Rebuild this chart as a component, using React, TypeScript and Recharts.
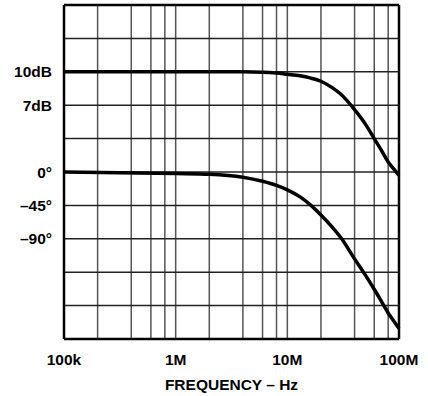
import { LineChart, Line, XAxis, YAxis, ReferenceLine } from 'recharts'

const freqs = [1e5, 1e6, 2e6, 4e6, 6e6, 8e6, 1e7, 1.3e7, 1.6e7, 2e7, 2.5e7, 3e7, 4e7, 5e7, 6e7, 7e7, 8e7, 9e7, 1e8]
const gainDb = [10, 10, 10, 10, 9.97, 9.89, 9.78, 9.64, 9.45, 9.15, 8.6, 8.0, 6.6, 5.3, 4.0, 2.9, 1.9, 1.25, 0.7]
const phaseDeg = [0, -2, -3, -7, -12.5, -18, -24, -33.5, -44, -58, -73.5, -88, -117, -139, -158, -175, -190, -201, -211]

const xTicks = [1e5, 1e6, 1e7, 1e8]
const xTickLabels: Record<number, string> = { 100000: '100k', 1000000: '1M', 10000000: '10M', 100000000: '100M' }
const xGrid = [2e5, 4e5, 6e5, 8e5, 1e6, 2e6, 4e6, 6e6, 8e6, 1e7, 2e7, 4e7, 6e7, 8e7]

const gainTicks = [10, 7]
const gainGrid = [-11, -8, -5, -2, 1, 4, 7, 10, 13]
const phaseLabels = [
  { value: 0, text: '0°' },
  { value: -45, text: '–45°' },
  { value: -90, text: '–90°' },
]

const data = freqs.map((f, i) => ({ f, gain: gainDb[i], phase: phaseDeg[i] }))

const font = { fontFamily: '"Liberation Sans", Arial, sans-serif', fontWeight: 'bold', fontSize: 15.5, fill: '#000' }

export default function App() {
  return (
    <div style={{ position: 'absolute', left: 0, top: 0, width: 428, height: 396, background: '#fff' }}>
      <LineChart width={428} height={396} data={data} margin={{ top: 5, right: 29, left: 0, bottom: 0 }}>
        <XAxis
          dataKey="f"
          type="number"
          scale="log"
          domain={[1e5, 1e8]}
          ticks={xTicks}
          tickFormatter={(v: number) => xTickLabels[v] ?? ''}
          axisLine={false}
          tickLine={false}
          tickSize={0}
          tickMargin={15}
          height={57}
          tick={font}
          label={{ value: 'FREQUENCY – Hz', position: 'insideBottom', offset: 6, ...font }}
        />
        <YAxis
          yAxisId="gain"
          type="number"
          domain={[-14, 16]}
          ticks={gainTicks}
          tickFormatter={(v: number) => `${v}dB`}
          axisLine={false}
          tickLine={false}
          tickSize={0}
          tickMargin={12}
          width={64}
          tick={font}
        />
        <YAxis yAxisId="phase" type="number" domain={[-225, 225]} hide />

        {xGrid.map((x) => (
          <ReferenceLine key={`vx${x}`} yAxisId="gain" x={x} stroke="#555" strokeWidth={1.5} />
        ))}
        {gainGrid.map((y) => (
          <ReferenceLine key={`hy${y}`} yAxisId="gain" y={y} stroke="#222" strokeWidth={1.5} />
        ))}
        {phaseLabels.map((p) => (
          <ReferenceLine
            key={`ph${p.value}`}
            yAxisId="phase"
            y={p.value}
            stroke="none"
            label={{ value: p.text, position: 'left', offset: 12, ...font }}
          />
        ))}
        <ReferenceLine yAxisId="gain" x={1e5} stroke="#000" strokeWidth={2.5} />
        <ReferenceLine yAxisId="gain" x={1e8} stroke="#000" strokeWidth={2.5} />
        <ReferenceLine yAxisId="gain" y={-14} stroke="#000" strokeWidth={2.5} />
        <ReferenceLine yAxisId="gain" y={16} stroke="#000" strokeWidth={2.5} />

        <Line yAxisId="gain" dataKey="gain" type="monotone" stroke="#000" strokeWidth={3.5} dot={false} isAnimationActive={false} />
        <Line yAxisId="phase" dataKey="phase" type="monotone" stroke="#000" strokeWidth={3.5} dot={false} isAnimationActive={false} />
      </LineChart>
    </div>
  )
}
